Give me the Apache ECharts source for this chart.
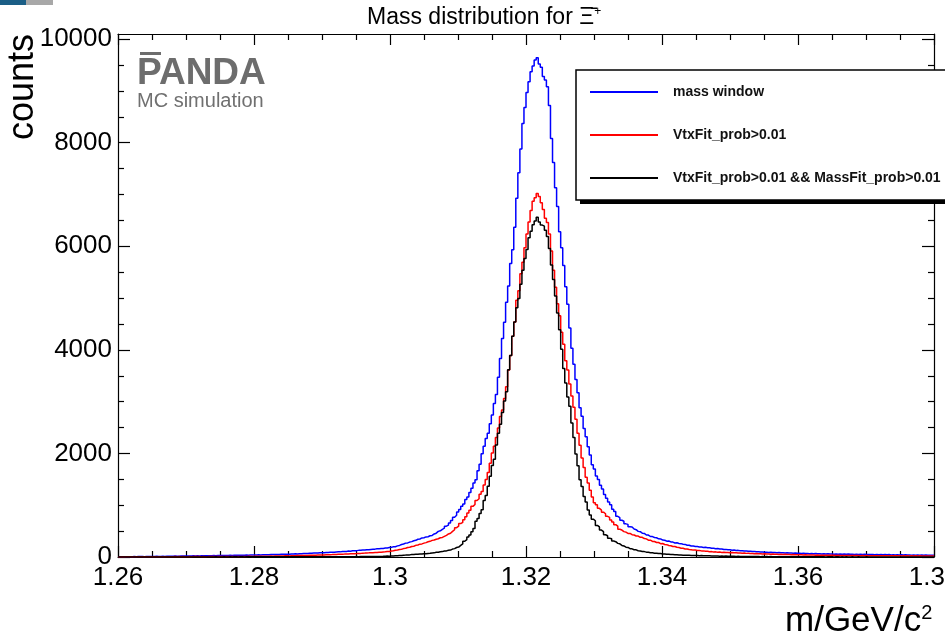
<!DOCTYPE html>
<html>
<head>
<meta charset="utf-8">
<script src="https://cdn.jsdelivr.net/npm/echarts@6/dist/echarts.min.js"></script>
<style>
  html, body { margin: 0; padding: 0; background: #fff; }
  #chart { width: 945px; height: 640px; }
</style>
</head>
<body>
<div id="chart"></div>
<script>
// Histogram binning of the reconstructed mass (GeV/c^2)
const BIN_LO = 1.26;
const BIN_HI = 1.38;
const BIN_COUNT = 400;

const xTickLabels = ['1.26', '1.28', '1.3', '1.32', '1.34', '1.36', '1.38'];
const yTickValues = [0, 2000, 4000, 6000, 8000, 10000];
const yMinorValues = [500, 1000, 1500, 2500, 3000, 3500, 4500, 5000, 5500,
                      6500, 7000, 7500, 8500, 9000, 9500];
const Y_MAX = 10100;

const seriesNames = ['mass window', 'VtxFit_prob>0.01', 'VtxFit_prob>0.01 && MassFit_prob>0.01'];
const seriesColors = ['#0000ff', '#ff0000', '#000000'];

// counts per bin, all candidates in the mass window
const massWindow = [
  4,6,5,5,7,6,5,8,7,9,
  8,10,7,10,9,12,10,11,13,11,
  12,14,11,14,16,13,15,17,16,16,
  18,17,20,18,21,19,22,20,23,21,
  23,22,24,25,23,26,27,25,28,27,
  29,28,31,30,32,30,33,34,32,35,
  34,36,37,35,38,39,37,40,42,40,
  43,42,45,44,47,46,48,50,49,52,
  51,54,55,53,58,57,61,60,64,63,
  66,68,67,72,71,75,77,76,81,80,
  84,86,87,91,93,92,98,100,99,105,
  107,108,114,113,119,121,123,128,129,135,
  134,141,142,147,150,152,158,159,165,166,
  172,175,184,186,196,199,215,224,241,250,
  268,272,288,297,313,322,343,348,368,372,
  388,392,410,417,445,460,495,505,535,556,
  595,615,658,705,768,805,868,915,978,1025,
  1110,1160,1245,1330,1430,1490,1665,1790,1995,2140,
  2290,2390,2575,2740,2965,3140,3470,3835,4220,4535,
  4920,5235,5670,5935,6370,6930,7420,7880,8370,8680,
  8970,9180,9370,9480,9600,9640,9520,9460,9280,9210,
  9080,8720,8080,7620,7130,6770,6280,5970,5630,5220,
  4880,4420,4030,3720,3430,3170,2880,2720,2480,2320,
  2130,1970,1780,1700,1565,1495,1385,1315,1205,1135,
  1060,1010,920,880,785,760,710,690,640,630,
  585,578,540,528,495,488,460,456,425,424,
  396,394,376,372,351,349,326,324,306,308,
  291,288,271,274,262,258,247,243,227,228,
  212,213,202,203,193,195,185,187,178,179,
  168,170,160,163,153,155,145,147,138,140,
  132,135,127,128,121,122,115,116,109,110,
  104,106,100,102,96,98,92,94,89,92,
  86,89,84,86,81,84,78,81,76,78,
  73,76,71,74,69,72,67,70,65,68,
  63,66,61,64,59,63,58,61,56,60,
  55,59,54,58,53,56,52,56,51,54,
  50,54,49,52,48,51,47,50,46,49,
  45,49,44,48,43,47,42,46,41,45,
  40,44,39,43,38,42,37,41,36,40,
  35,39,34,38,33,37,33,36,32,35
];

// counts per bin after the vertex fit probability cut
const vtxFit = [
  2,3,1,3,4,3,2,4,4,3,
  4,3,5,4,6,4,5,6,4,6,
  5,7,6,6,7,7,6,8,7,8,
  6,8,6,7,8,7,9,8,8,10,
  7,9,7,8,10,8,9,8,10,10,
  9,11,10,10,11,11,10,12,12,11,
  12,12,11,13,13,12,14,14,13,15,
  14,16,16,15,18,16,18,17,20,19,
  20,22,22,21,24,24,25,27,27,29,
  29,31,31,34,34,36,36,38,38,41,
  40,42,43,45,46,48,49,51,52,55,
  56,58,59,61,62,65,66,69,70,74,
  76,79,80,83,84,87,88,92,94,98,
  100,105,107,114,119,130,134,144,150,162,
  168,182,188,203,208,225,232,248,253,268,
  278,295,303,321,328,344,352,372,378,398,
  418,445,458,495,527,566,596,645,668,720,
  775,848,905,978,1015,1090,1125,1210,1265,1390,
  1495,1630,1810,2010,2140,2310,2490,2715,2840,3060,
  3290,3610,3890,4265,4540,4960,5140,5470,5690,5970,
  6240,6470,6690,6870,6940,7020,6960,6840,6710,6540,
  6460,6240,5910,5540,5210,4890,4660,4340,4110,3790,
  3610,3340,3110,2890,2660,2390,2160,1910,1730,1540,
  1430,1290,1160,1050,1010,940,905,865,835,785,
  765,715,675,625,595,535,520,490,480,455,
  455,430,425,405,405,380,380,355,350,325,
  325,300,300,280,280,258,260,242,238,222,
  218,202,203,187,183,170,168,155,153,143,
  142,133,134,126,126,118,118,110,110,102,
  104,97,99,93,95,89,91,86,89,84,
  86,80,82,76,79,73,75,70,72,67,
  69,64,67,61,64,59,62,56,59,54,
  57,52,55,50,53,48,51,46,49,44,
  47,43,45,42,44,40,42,39,41,37,
  39,36,37,35,36,34,35,33,34,32,
  33,31,32,30,31,29,31,28,30,27,
  29,27,28,26,28,25,27,25,26,24,
  26,24,25,23,25,23,24,23,24,22,
  24,22,23,21,23,21,23,20,22,20,
  22,20,22,19,21,19,21,19,21,19
];

// counts per bin after both the vertex fit and mass fit probability cuts
const vtxMassFit = [
  0,1,0,0,1,0,1,0,0,1,
  0,1,1,0,1,0,1,1,0,1,
  1,0,1,1,2,1,1,0,1,2,
  1,1,2,1,1,2,1,2,2,1,
  2,1,2,2,1,2,2,3,2,2,
  2,3,2,2,3,2,3,3,2,3,
  3,2,3,3,4,3,3,4,3,4,
  3,3,4,4,3,4,4,3,4,4,
  4,4,3,4,5,4,4,5,4,5,
  4,5,5,4,5,5,4,5,5,5,
  4,5,4,5,5,5,6,5,6,6,
  6,7,6,7,7,7,8,7,8,8,
  8,9,8,9,9,10,11,12,12,13,
  15,17,16,20,20,26,26,30,31,36,
  37,41,41,46,46,51,51,56,56,61,
  64,69,71,78,80,90,91,102,104,115,
  118,130,134,153,162,184,192,224,252,304,
  336,385,425,488,552,690,742,840,912,1090,
  1190,1365,1560,1765,1890,2165,2390,2565,2790,3015,
  3190,3615,3890,4265,4540,4815,4990,5265,5540,5765,
  5940,6165,6290,6415,6490,6560,6470,6410,6390,6310,
  6190,5960,5640,5360,5040,4710,4390,4010,3640,3360,
  3090,2910,2590,2310,1990,1760,1490,1360,1170,1060,
  910,810,730,700,610,580,520,490,430,410,
  360,352,308,296,263,255,224,214,190,184,
  160,158,141,138,122,117,105,104,94,92,
  83,81,74,73,66,66,58,58,52,52,
  47,47,43,43,39,39,36,36,33,34,
  30,31,28,29,26,27,24,25,22,23,
  20,21,18,19,16,18,15,17,14,15,
  13,14,12,13,11,12,10,12,9,11,
  8,10,8,9,7,9,7,8,6,8,
  6,7,5,7,5,6,5,6,4,6,
  4,5,4,5,3,5,3,5,3,4,
  3,3,4,3,3,3,2,3,3,3,
  2,3,3,2,3,2,3,2,2,3,
  2,2,3,2,2,2,3,2,2,2,
  2,2,2,1,2,2,2,1,2,2,
  2,1,2,2,1,2,1,2,2,1,
  1,2,1,2,1,1,2,1,1,2
];

const histograms = [massWindow, vtxFit, vtxMassFit];
histograms.forEach((h, k) => {
  if (h.length !== BIN_COUNT) throw new Error(seriesNames[k] + ': ' + h.length + ' bins');
});

// Turn bin contents into step-line points at the lower bin edges,
// closing the last bin at the upper edge of the range.
function histogramPoints(counts) {
  const w = (BIN_HI - BIN_LO) / counts.length;
  const pts = counts.map((c, i) => [BIN_LO + i * w, c]);
  pts.push([BIN_HI, counts[counts.length - 1]]);
  return pts;
}

const FONT = "'Liberation Sans', Arial, Helvetica, sans-serif";

const chart = echarts.init(document.getElementById('chart'), null, { renderer: 'canvas' });

function xAxisDef(position, showLabels) {
  return {
    type: 'value', position: position, min: BIN_LO, max: BIN_HI, interval: 0.02,
    axisLine: { show: true, onZero: false, lineStyle: { color: '#000', width: 1.2 } },
    axisTick: { show: true, inside: true, length: 11, lineStyle: { color: '#000', width: 1.2 } },
    minorTick: { show: true, splitNumber: 4, length: 6, lineStyle: { color: '#000', width: 1.2 } },
    axisLabel: {
      show: showLabels, margin: 8, fontSize: 26, color: '#000', fontFamily: FONT,
      formatter: v => xTickLabels[Math.round((v - BIN_LO) / 0.02)]
    },
    splitLine: { show: false }, minorSplitLine: { show: false }
  };
}

function yAxisDef(position, tickValues, tickLength, showLine, showLabels) {
  return {
    type: 'value', position: position, min: 0, max: Y_MAX, interval: 500,
    axisLine: { show: showLine, onZero: false, lineStyle: { color: '#000', width: 1.2 } },
    axisTick: { show: true, inside: true, length: tickLength, customValues: tickValues,
                lineStyle: { color: '#000', width: 1.2 } },
    axisLabel: {
      show: showLabels, customValues: tickValues, margin: 6, fontSize: 26,
      color: '#000', fontFamily: FONT, formatter: v => String(v)
    },
    splitLine: { show: false }
  };
}

function legendDef(name, top) {
  return {
    data: [name], left: 590, top: top, padding: 0, orient: 'vertical',
    icon: 'rect', itemWidth: 68, itemHeight: 2, selectedMode: false, z: 10,
    textStyle: { fontSize: 14, fontWeight: 'bold', color: '#111', fontFamily: FONT,
                 lineHeight: 16, padding: [0, 0, 0, 10] }
  };
}

const option = {
  animation: false,
  backgroundColor: '#fff',
  title: {
    text: 'Mass distribution for {xi|Ξ̄}{sup|+}',
    left: 367, top: 6, padding: 0,
    textStyle: {
      fontSize: 23, fontWeight: 'normal', color: '#000', fontFamily: FONT,
      rich: {
        xi: { fontSize: 23, fontFamily: FONT, color: '#000' },
        sup: { fontSize: 12, fontFamily: FONT, color: '#000', verticalAlign: 'top' }
      }
    }
  },
  grid: { left: 118, right: 11, top: 34, bottom: 83, containLabel: false, outerBoundsMode: 'none' },
  xAxis: [xAxisDef('bottom', true), xAxisDef('top', false)],
  yAxis: [
    yAxisDef('left', yTickValues, 12, true, true),
    yAxisDef('left', yMinorValues, 6, false, false),
    yAxisDef('right', yTickValues, 12, true, false),
    yAxisDef('right', yMinorValues, 6, false, false)
  ],
  legend: [
    legendDef(seriesNames[0], 84),
    legendDef(seriesNames[1], 127),
    legendDef(seriesNames[2], 170)
  ],
  series: histograms.map((h, k) => ({
    name: seriesNames[k], type: 'line', step: 'end',
    xAxisIndex: 0, yAxisIndex: 0,
    data: histogramPoints(h),
    showSymbol: false, symbol: 'none',
    lineStyle: { color: seriesColors[k], width: 1.5 },
    itemStyle: { color: seriesColors[k] },
    z: 3 + k
  })),
  graphic: [
    // strip in the top-left corner
    { type: 'rect', left: 0, top: 0, shape: { width: 26, height: 5 }, style: { fill: '#1b5e86' } },
    { type: 'rect', left: 26, top: 0, shape: { width: 27, height: 5 }, style: { fill: '#a8a8a8' } },
    // legend frame with its drop shadow
    { type: 'rect', x: 580, y: 74, shape: { width: 400, height: 130 }, style: { fill: '#000' }, z: 5 },
    { type: 'rect', x: 576, y: 70, shape: { width: 400, height: 130 },
      style: { fill: '#fff', stroke: '#000', lineWidth: 1.5 }, z: 6 },
    // experiment logo
    { type: 'rect', x: 140, y: 52, shape: { width: 21, height: 3 }, style: { fill: '#6d6d6d' }, z: 7 },
    { type: 'text', x: 137, y: 74, z: 7,
      style: { text: 'PANDA', fontSize: 37, fontWeight: 'bold', fontFamily: FONT,
               fill: '#6d6d6d', align: 'left', verticalAlign: 'middle' } },
    { type: 'text', x: 137, y: 101, z: 7,
      style: { text: 'MC simulation', fontSize: 20, fontFamily: FONT,
               fill: '#707070', align: 'left', verticalAlign: 'middle' } },
    // axis titles
    { type: 'text', x: 23, y: 140, rotation: Math.PI / 2, z: 7,
      style: { text: 'counts', fontSize: 36, fontFamily: FONT, fill: '#000',
               align: 'left', verticalAlign: 'middle' } },
    { type: 'text', x: 785, y: 621, z: 7,
      style: { text: 'm/GeV/c{sup|2}', fontSize: 35, fontFamily: FONT, fill: '#000',
               align: 'left', verticalAlign: 'middle',
               rich: { sup: { fontSize: 20, fontFamily: FONT, fill: '#000', verticalAlign: 'top' } } } }
  ]
};

chart.setOption(option);
</script>
</body>
</html>
